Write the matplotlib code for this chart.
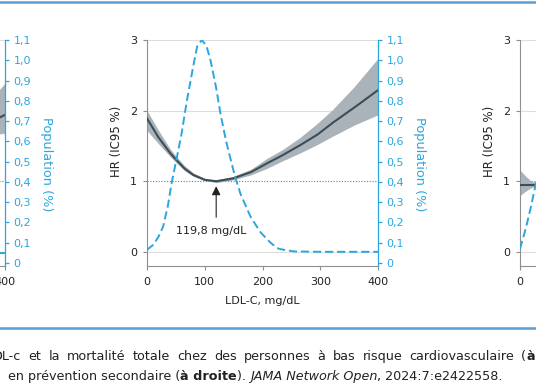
import matplotlib
matplotlib.use("Agg")
import matplotlib.pyplot as plt
from matplotlib.lines import Line2D

plt.rcParams["font.family"] = ["DejaVu Sans"]

W, H = 536, 386
CYAN = "#2ba6de"
CURVE = "#3d4d57"
BAND = "#a9b3b9"
SPINE = "#8f8f8f"
GRID = "#dedede"
FRAME = "#5b9dd6"
TEXT = "#222222"

# centre panel (low-risk population)
ldl_mid = [0, 20, 40, 51, 65, 80, 100, 120, 149, 180, 207, 235, 265, 295, 322, 360, 400]
hr_mid = [1.89, 1.62, 1.40, 1.30, 1.18, 1.09, 1.02, 1.00, 1.04, 1.13, 1.25, 1.37, 1.51, 1.66, 1.83, 2.05, 2.29]
hr_mid_lo = [1.72, 1.53, 1.35, 1.26, 1.15, 1.07, 1.01, 0.98, 1.02, 1.09, 1.18, 1.29, 1.40, 1.52, 1.64, 1.80, 1.94]
hr_mid_hi = [2.00, 1.72, 1.46, 1.35, 1.22, 1.12, 1.04, 1.02, 1.07, 1.17, 1.32, 1.45, 1.62, 1.82, 2.02, 2.35, 2.74]
pop_x_mid = [0, 11, 20, 28, 36, 43, 51, 60, 69, 80, 87, 95, 103, 110, 120, 127, 137, 145, 152, 162, 179, 190, 197, 207, 214, 225, 231, 254, 300, 350, 400]
pop_mid = [0.065, 0.09, 0.13, 0.18, 0.28, 0.40, 0.51, 0.64, 0.80, 0.97, 1.07, 1.10, 1.07, 1.00, 0.86, 0.74, 0.60, 0.51, 0.43, 0.34, 0.23, 0.18, 0.15, 0.12, 0.10, 0.074, 0.068, 0.057, 0.055, 0.055, 0.055]

# left panel (only its right end is visible)
ldl_left = [340, 360, 380, 400]
hr_left = [1.72, 1.79, 1.86, 1.94]
hr_left_lo = [1.60, 1.63, 1.66, 1.68]
hr_left_hi = [1.92, 2.05, 2.20, 2.39]
pop_x_left = [300, 350, 400]
pop_left = [0.05, 0.05, 0.05]

# right panel (secondary prevention, only its left end is visible)
ldl_right = [0, 10, 20, 30, 40]
hr_right = [0.95, 0.95, 0.95, 0.95, 0.95]
hr_right_lo = [0.80, 0.86, 0.91, 0.93, 0.93]
hr_right_hi = [1.16, 1.07, 1.00, 0.98, 0.97]
pop_x_right = [0, 10, 20, 28, 40]
pop_right = [0.07, 0.17, 0.29, 0.40, 0.58]

x_ticks = [0, 100, 200, 300, 400]
hr_ticks = [0, 1, 2, 3]
pop_ticks = [i / 10 for i in range(12)]
pop_labels = ["0"] + [f"{t:.1f}".replace(".", ",") for t in pop_ticks[1:]]

caption_1 = [
    [("DL-c", "normal", "normal")], [("et", "normal", "normal")], [("la", "normal", "normal")],
    [("mortalité", "normal", "normal")], [("totale", "normal", "normal")],
    [("chez", "normal", "normal")], [("des", "normal", "normal")],
    [("personnes", "normal", "normal")], [("à", "normal", "normal")],
    [("bas", "normal", "normal")], [("risque", "normal", "normal")],
    [("cardiovasculaire", "normal", "normal")], [("(", "normal", "normal"), ("à", "bold", "normal")],
]
caption_2 = [
    ("en prévention secondaire (", "normal", "normal"),
    ("à droite", "bold", "normal"),
    ("). ", "normal", "normal"),
    ("JAMA Network Open", "normal", "italic"),
    (", 2024:7:e2422558.", "normal", "normal"),
]


def draw_panel(fig, left_px, ldl, hr, lo, hi, pop_x, pop, note=False):
    ax_w, top, bottom = 231, 40, 266
    ax = fig.add_axes([left_px / W, (H - bottom) / H, ax_w / W, (bottom - top) / H])
    ax.set_xlim(0, 400)
    ax.set_ylim(-0.2, 3)
    for y in (0, 2, 3):
        ax.axhline(y, color=GRID, lw=0.8, zorder=0)
    ax.axhline(1, color="#7a7a7a", lw=0.8, ls=(0, (1, 1.5)), zorder=1)
    ax.fill_between(ldl, lo, hi, color=BAND, lw=0, zorder=2)
    ax.plot(ldl, hr, color=CURVE, lw=1.5, zorder=3)
    for s in ("top", "right"):
        ax.spines[s].set_visible(False)
    for s in ("left", "bottom"):
        ax.spines[s].set_color(SPINE)
        ax.spines[s].set_linewidth(0.8)
    ax.set_xticks(x_ticks)
    ax.set_yticks(hr_ticks)
    ax.tick_params(colors=SPINE, labelcolor=TEXT, labelsize=8, length=3, width=0.8)
    ax.tick_params(axis="x", pad=5)
    ax.tick_params(axis="y", pad=4)
    ax.text(-0.13, 0.55, "HR (IC95 %)", transform=ax.transAxes, rotation=90,
            ha="center", va="center", fontsize=8.5, color=TEXT)
    ax.text(0.5, -0.155, "LDL-C, mg/dL", transform=ax.transAxes,
            ha="center", va="center", fontsize=8, color=TEXT)

    ax2 = ax.twinx()
    ax2.set_ylim(-0.015, 1.1)
    ax2.plot(pop_x, pop, color=CYAN, lw=1.4, ls=(0, (4.2, 2)), zorder=4)
    for s in ("top", "left", "bottom"):
        ax2.spines[s].set_visible(False)
    ax2.spines["right"].set_color(CYAN)
    ax2.spines["right"].set_linewidth(0.9)
    ax2.set_yticks(pop_ticks)
    ax2.set_yticklabels(pop_labels)
    ax2.tick_params(colors=CYAN, labelsize=8, length=3, width=0.9, pad=3)
    ax2.text(1.18, 0.45, "Population (%)", transform=ax.transAxes, rotation=270,
             ha="center", va="center", fontsize=9.3, color=CYAN)

    if note:
        ax.annotate("", xy=(119.8, 0.93), xytext=(119.8, 0.49),
                    arrowprops=dict(arrowstyle="-|>,head_length=0.4,head_width=0.2",
                                    color=TEXT, lw=0.8, mutation_scale=13,
                                    shrinkA=0, shrinkB=0))
        ax.text(112, 0.29, "119,8 mg/dL", ha="center", va="center",
                fontsize=8, color=TEXT)
    return ax


def justified_line(fig, x0, x1, y_px, words, size=9.2):
    renderer = fig.canvas.get_renderer()
    placed = []
    for word in words:
        pieces = [fig.text(0, 1 - y_px / H, txt, fontsize=size, color=TEXT,
                           fontweight=weight, fontstyle=style, ha="left", va="bottom")
                  for txt, weight, style in word]
        placed.append([(p, p.get_window_extent(renderer).width) for p in pieces])
    total = sum(w for pieces in placed for _, w in pieces)
    gap = (x1 - x0 - total) / (len(placed) - 1)
    x = x0
    for pieces in placed:
        for p, w in pieces:
            p.set_x(x / W)
            x += w
        x += gap


def caption(fig, x_px, y_px, parts, size=9.2):
    prev = None
    for txt, weight, style in parts:
        kw = dict(fontsize=size, color=TEXT, fontweight=weight, fontstyle=style,
                  ha="left", va="bottom")
        if prev is None:
            prev = fig.text(x_px / W, 1 - y_px / H, txt, **kw)
        else:
            prev = fig.add_artist(plt.Annotation(txt, xy=(1, 0), xycoords=prev, **kw))


fig = plt.figure(figsize=(W / 100, H / 100), dpi=100)

draw_panel(fig, 5 - 231, ldl_left, hr_left, hr_left_lo, hr_left_hi, pop_x_left, pop_left)
draw_panel(fig, 147, ldl_mid, hr_mid, hr_mid_lo, hr_mid_hi, pop_x_mid, pop_mid, note=True)
draw_panel(fig, 520, ldl_right, hr_right, hr_right_lo, hr_right_hi, pop_x_right, pop_right)

for y_px in (2, 328):
    fig.add_artist(Line2D([0, 1], [1 - y_px / H, 1 - y_px / H], transform=fig.transFigure,
                          color=FRAME, lw=1.8))

justified_line(fig, -7, 535, 363, caption_1)
caption(fig, 8, 383, caption_2)

fig.savefig("out.png", dpi=100)
